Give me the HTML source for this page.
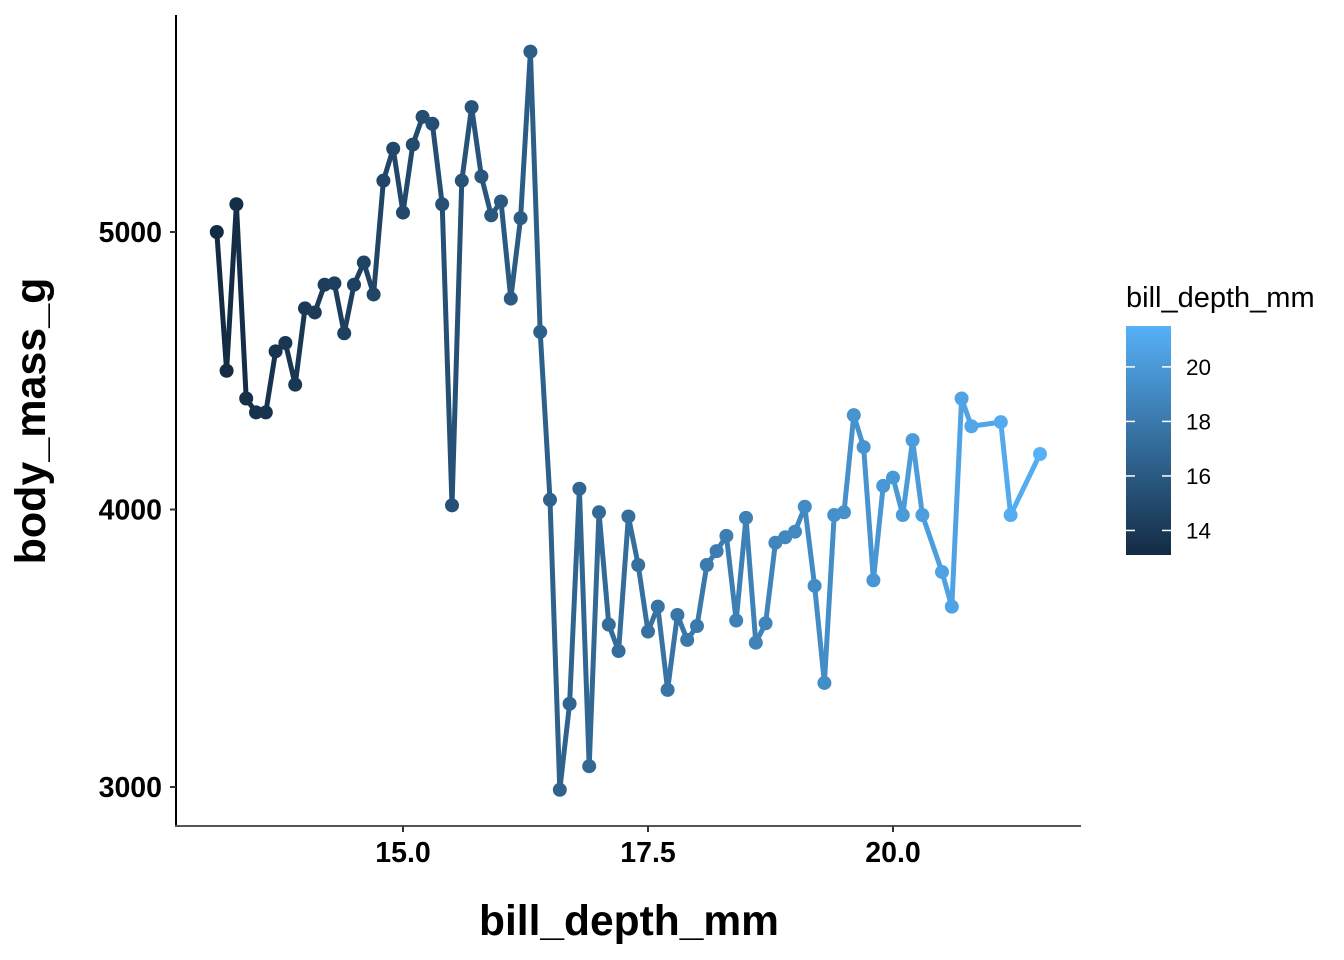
<!DOCTYPE html>
<html><head><meta charset="utf-8"><style>
html,body{margin:0;padding:0;background:#fff;}
svg{display:block;font-family:"Liberation Sans",Arial,sans-serif;}
</style></head><body>
<svg id="chart" width="1344" height="960" viewBox="0 0 1344 960">
<defs><linearGradient id="lg" x1="0" y1="1" x2="0" y2="0"><stop offset="0" stop-color="#132B43"/><stop offset="1" stop-color="#56B1F7"/></linearGradient></defs>
<g id="axes"></g>
<g id="marks"></g>
<g id="legend">
<text x="1126" y="307" font-size="29" fill="#000">bill_depth_mm</text>
<rect x="1126" y="326" width="45" height="229" fill="url(#lg)"/>
</g>
<text x="629" y="935" font-size="42.5" font-weight="bold" text-anchor="middle">bill_depth_mm</text>
<text transform="translate(45,421) rotate(-90)" font-size="43" font-weight="bold" text-anchor="middle">body_mass_g</text>
</svg>
<script>
const depths=[13.1,13.2,13.3,13.4,13.5,13.6,13.7,13.8,13.9,14.0,14.1,14.2,14.3,14.4,14.5,14.6,14.7,14.8,14.9,15.0,15.1,15.2,15.3,15.4,15.5,15.6,15.7,15.8,15.9,16.0,16.1,16.2,16.3,16.4,16.5,16.6,16.7,16.8,16.9,17.0,17.1,17.2,17.3,17.4,17.5,17.6,17.7,17.8,17.9,18.0,18.1,18.2,18.3,18.4,18.5,18.6,18.7,18.8,18.9,19.0,19.1,19.2,19.3,19.4,19.5,19.6,19.7,19.8,19.9,20.0,20.1,20.2,20.3,20.5,20.6,20.7,20.8,21.1,21.2,21.5];
const masses=[5000,4500,5100,4400,4350,4350,4570,4600,4450,4725,4710,4810,4815,4635,4810,4890,4775,5185,5300,5070,5315,5415,5390,5100,4015,5185,5450,5200,5060,5110,4760,5050,5650,4640,4035,2990,3300,4075,3075,3990,3585,3490,3975,3800,3560,3650,3350,3620,3530,3580,3800,3850,3905,3600,3970,3520,3590,3880,3900,3920,4010,3725,3375,3980,3990,4340,4225,3745,4085,4115,3980,4250,3980,3775,3650,4400,4300,4315,3980,4200];
const xTicks=[15.0,17.5,20.0];
const xTickLabels=["15.0","17.5","20.0"];
const yTicks=[3000,4000,5000];
const yTickLabels=["3000","4000","5000"];
const legendTicks=[14,16,18,20];
const legendTickLabels=["14","16","18","20"];
const NS="http://www.w3.org/2000/svg";
const X=v=>403+(v-15)*98;
const Y=v=>787-(v-3000)*0.2775;
const cmin=Math.min(...depths),cmax=Math.max(...depths);
const c0=[0x13,0x2B,0x43],c1=[0x56,0xB1,0xF7];
function col(v){const t=(v-cmin)/(cmax-cmin);return "rgb("+c0.map((a,i)=>Math.round(a+(c1[i]-a)*t)).join(",")+")";}
function mk(tag,attrs,parent){const e=document.createElementNS(NS,tag);for(const k in attrs)e.setAttribute(k,attrs[k]);parent.appendChild(e);return e;}
const axes=document.getElementById('axes'),marks=document.getElementById('marks'),legend=document.getElementById('legend');
let l=mk('line',{x1:176,y1:15,x2:176,y2:827,stroke:'#000','stroke-width':2},axes);


l=mk('line',{x1:175,y1:826,x2:1081,y2:826,stroke:'#555','stroke-width':2},axes);


xTicks.forEach((v,i)=>{
 const t=mk('line',{x1:X(v),y1:826,x2:X(v),y2:832,stroke:'#333','stroke-width':2},axes);
 
 
 const tx=mk('text',{x:X(v),y:862,'font-size':28.5,'font-weight':'bold','text-anchor':'middle'},axes);
 tx.textContent=xTickLabels[i];
 
 
});
yTicks.forEach((v,i)=>{
 const t=mk('line',{x1:170,y1:Y(v),x2:176,y2:Y(v),stroke:'#333','stroke-width':2},axes);
 
 
 const tx=mk('text',{x:162,y:Y(v)+10,'font-size':28.5,'font-weight':'bold','text-anchor':'end'},axes);
 tx.textContent=yTickLabels[i];
 
 
});
for(let i=0;i<depths.length-1;i++){
 const s=mk('line',{x1:X(depths[i]),y1:Y(masses[i]),x2:X(depths[i+1]),y2:Y(masses[i+1]),stroke:col(depths[i]),'stroke-width':5,'stroke-linecap':'round'},marks);
 
 
}
depths.forEach((d,i)=>{
 const p=mk('circle',{cx:X(d),cy:Y(masses[i]),r:7,fill:col(d)},marks);
 
 
});
const LY=v=>555-(v-cmin)/(cmax-cmin)*229;
legendTicks.forEach((v,i)=>{
 const a=mk('line',{x1:1126,y1:LY(v),x2:1135,y2:LY(v),stroke:'#fff','stroke-width':1.5},legend);
 
 
 const b=mk('line',{x1:1162,y1:LY(v),x2:1171,y2:LY(v),stroke:'#fff','stroke-width':1.5},legend);
 
 
 const tx=mk('text',{x:1186,y:LY(v)+8,'font-size':22.5},legend);
 tx.textContent=legendTickLabels[i];
 
 
});
</script>
</body></html>
